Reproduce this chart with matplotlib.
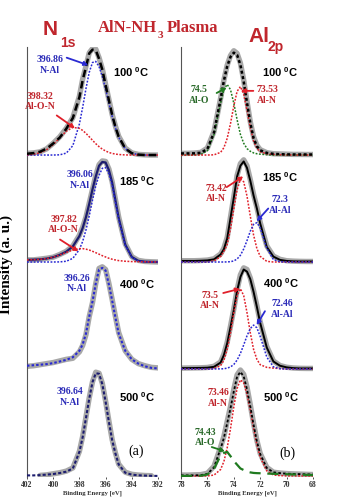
import numpy as np
import matplotlib
matplotlib.use("Agg")
import matplotlib.pyplot as plt

plt.rcParams['mathtext.fontset'] = 'custom'
plt.rcParams['mathtext.rm'] = 'Liberation Sans:bold'
plt.rcParams['mathtext.bf'] = 'Liberation Sans:bold'
plt.rcParams['mathtext.it'] = 'Liberation Sans:bold'

# ---------------- data ----------------
energy_n1s = [402.0, 401.5, 401.0, 400.5, 400.0, 399.5, 399.0, 398.5, 398.0, 397.75, 397.5, 397.25,
              397.0, 396.75, 396.5, 396.25, 396.0, 395.75, 395.5, 395.25, 395.0, 394.5, 394.0,
              393.5, 393.0, 392.5, 392.0]
energy_al2p = [78.0, 77.5, 77.0, 76.5, 76.0, 75.5, 75.0, 74.75, 74.5, 74.25, 74.0, 73.75, 73.5,
               73.25, 73.0, 72.75, 72.5, 72.25, 72.0, 71.5, 71.0, 70.5, 70.0, 69.5, 69.0, 68.5, 68.0]
n1s_ticks = [402, 400, 398, 396, 394, 392]
al2p_ticks = [78, 76, 74, 72, 70, 68]
temperatures = ["100", "185", "400", "500"]

nan = np.nan
# N1s, 100 C
n100_data = [0.015, 0.02, 0.03, 0.058, 0.11, 0.17, 0.25, 0.35, 0.55, 0.71, 0.83, 0.955, 0.995, 0.99, 0.91, 0.805, 0.66, 0.52, 0.38, 0.27, 0.175, 0.065, 0.02, 0.006, 0.002, 0.0, 0.0]
n100_fit = [0.012, 0.018, 0.031, 0.06, 0.108, 0.163, 0.246, 0.346, 0.54, 0.699, 0.823, 0.95, 0.985, 0.98, 0.9, 0.798, 0.654, 0.513, 0.376, 0.262, 0.171, 0.061, 0.017, 0.004, 0.0, 0.0, 0.0]
n100_nal = [0, 0, 0, 0, 0, 0.002, 0.018, 0.088, 0.29, 0.447, 0.62, 0.773, 0.865, 0.875, 0.826, 0.736, 0.616, 0.486, 0.361, 0.253, 0.166, 0.06, 0.017, 0.004, 0, 0, 0]
n100_alon = [0.002, 0.008, 0.021, 0.05, 0.098, 0.161, 0.223, 0.258, 0.25, 0.23, 0.203, 0.171, 0.138, 0.106, 0.078, 0.055, 0.038, 0.024, 0.015, 0.009, 0.005, 0.001, 0, 0, 0, 0, 0]
# N1s, 185 C
n185_data = [0.02, 0.02, 0.027, 0.035, 0.045, 0.07, 0.1, 0.15, 0.25, 0.325, 0.42, 0.55, 0.68, 0.81, 0.91, 0.945, 0.94, 0.87, 0.75, 0.585, 0.42, 0.17, 0.05, 0.015, 0.005, 0.002, 0.0]
n185_fit = [0.02, 0.022, 0.025, 0.032, 0.045, 0.067, 0.097, 0.146, 0.242, 0.318, 0.419, 0.543, 0.679, 0.8, 0.9, 0.935, 0.93, 0.86, 0.743, 0.576, 0.411, 0.163, 0.047, 0.011, 0.003, 0.001, 0.0]
n185_nal = [0, 0, 0, 0, 0, 0.001, 0.007, 0.034, 0.117, 0.193, 0.299, 0.431, 0.579, 0.713, 0.81, 0.876, 0.883, 0.825, 0.717, 0.557, 0.398, 0.156, 0.043, 0.008, 0.001, 0, 0]
n185_alon = [0.02, 0.022, 0.025, 0.032, 0.045, 0.066, 0.09, 0.112, 0.125, 0.125, 0.12, 0.112, 0.1, 0.087, 0.073, 0.059, 0.047, 0.035, 0.026, 0.019, 0.013, 0.007, 0.004, 0.003, 0.002, 0.001, 0.0]
# N1s, 400 C
n400_data = [0.025, 0.03, 0.04, 0.05, 0.06, 0.075, 0.09, 0.1, 0.16, 0.22, 0.32, 0.49, 0.62, 0.8, 0.94, 0.955, 0.93, 0.8, 0.65, 0.49, 0.34, 0.17, 0.09, 0.05, 0.03, 0.015, 0.01]
n400_fit = [0.03, 0.035, 0.04, 0.045, 0.055, 0.07, 0.085, 0.11, 0.17, 0.23, 0.33, 0.49, 0.63, 0.8, 0.93, 0.945, 0.92, 0.79, 0.64, 0.48, 0.33, 0.17, 0.09, 0.05, 0.025, 0.01, 0.005]
# N1s, 500 C
n500_data = [nan, nan, 0.005, 0.01, 0.02, 0.03, 0.045, 0.075, 0.23, 0.37, 0.55, 0.73, 0.88, 0.97, 0.96, 0.865, 0.7, 0.515, 0.34, 0.215, 0.11, 0.035, 0.015, 0.008, 0.004, 0.002, nan]
n500_fit = [0.005, 0.005, 0.008, 0.012, 0.018, 0.027, 0.04, 0.07, 0.225, 0.363, 0.54, 0.722, 0.877, 0.96, 0.955, 0.857, 0.694, 0.507, 0.335, 0.21, 0.107, 0.03, 0.012, 0.006, 0.003, 0.001, 0.0]

# Al2p, 100 C
a100_data = [0.015, 0.016, 0.018, 0.025, 0.065, 0.22, 0.53, 0.7, 0.84, 0.93, 0.975, 0.95, 0.86, 0.7, 0.5, 0.31, 0.17, 0.09, 0.05, 0.022, 0.012, 0.01, 0.008, 0.006, 0.006, 0.005, 0.005]
a100_fit = [0.015, 0.015, 0.016, 0.021, 0.057, 0.211, 0.525, 0.695, 0.83, 0.918, 0.957, 0.936, 0.843, 0.688, 0.488, 0.3, 0.158, 0.082, 0.044, 0.02, 0.011, 0.008, 0.006, 0.005, 0.005, 0.005, 0.005]
a100_alo = [0, 0, 0, 0.005, 0.041, 0.193, 0.485, 0.611, 0.66, 0.611, 0.485, 0.33, 0.193, 0.11, 0.06, 0.035, 0.02, 0.012, 0.008, 0.003, 0, 0, 0, 0, 0, 0, 0]
a100_aln = [0, 0, 0, 0, 0, 0.002, 0.025, 0.069, 0.156, 0.294, 0.46, 0.595, 0.64, 0.569, 0.42, 0.257, 0.131, 0.063, 0.03, 0.012, 0.006, 0.003, 0.001, 0, 0, 0, 0]
# Al2p, 185 C
a185_data = [0.012, 0.012, 0.012, 0.014, 0.018, 0.03, 0.075, 0.13, 0.23, 0.42, 0.61, 0.81, 0.92, 0.955, 0.9, 0.77, 0.63, 0.51, 0.37, 0.15, 0.055, 0.025, 0.012, 0.008, 0.006, 0.005, 0.005]
a185_fit = [0.01, 0.01, 0.01, 0.012, 0.015, 0.025, 0.07, 0.12, 0.22, 0.41, 0.6, 0.8, 0.9, 0.94, 0.88, 0.76, 0.62, 0.5, 0.36, 0.14, 0.05, 0.02, 0.01, 0.006, 0.005, 0.005, 0.005]
a185_aln = [0, 0, 0, 0, 0, 0.01, 0.05, 0.1, 0.164, 0.31, 0.498, 0.675, 0.773, 0.75, 0.616, 0.428, 0.251, 0.125, 0.053, 0.006, 0, 0, 0, 0, 0, 0, 0]
a185_alal = [0, 0, 0, 0, 0, 0, 0, 0, 0.001, 0.003, 0.01, 0.028, 0.063, 0.122, 0.2, 0.288, 0.352, 0.368, 0.319, 0.129, 0.023, 0.002, 0, 0, 0, 0, 0]
# Al2p, 400 C
a400_data = [0.008, 0.009, 0.01, 0.011, 0.014, 0.025, 0.065, 0.14, 0.25, 0.4, 0.56, 0.74, 0.88, 0.945, 0.93, 0.85, 0.73, 0.59, 0.44, 0.21, 0.075, 0.032, 0.016, 0.009, 0.006, 0.005, 0.005]
a400_fit = [0.008, 0.008, 0.009, 0.01, 0.012, 0.02, 0.06, 0.13, 0.24, 0.39, 0.55, 0.73, 0.86, 0.93, 0.91, 0.84, 0.72, 0.58, 0.43, 0.2, 0.07, 0.03, 0.015, 0.008, 0.005, 0.005, 0.005]
a400_aln = [0, 0, 0, 0, 0, 0.003, 0.031, 0.082, 0.182, 0.338, 0.527, 0.686, 0.75, 0.686, 0.527, 0.338, 0.182, 0.09, 0.04, 0.015, 0.008, 0.004, 0, 0, 0, 0, 0]
a400_alal = [0, 0, 0, 0, 0, 0, 0.001, 0.002, 0.008, 0.019, 0.042, 0.083, 0.145, 0.225, 0.31, 0.378, 0.41, 0.385, 0.304, 0.111, 0.02, 0.002, 0, 0, 0, 0, 0]
# Al2p, 500 C
a500_data = [0.008, 0.008, 0.01, 0.012, 0.025, 0.09, 0.27, 0.37, 0.51, 0.65, 0.81, 0.945, 0.99, 0.95, 0.83, 0.665, 0.49, 0.33, 0.21, 0.08, 0.035, 0.027, 0.022, 0.019, 0.017, 0.015, 0.013]
a500_fit = [0.005, 0.005, 0.006, 0.007, 0.019, 0.08, 0.255, 0.355, 0.493, 0.632, 0.79, 0.928, 0.973, 0.93, 0.81, 0.649, 0.477, 0.323, 0.205, 0.074, 0.034, 0.026, 0.021, 0.019, 0.017, 0.015, 0.013]
a500_aln = [0, 0, 0, 0, 0, 0.008, 0.06, 0.135, 0.263, 0.442, 0.645, 0.818, 0.898, 0.87, 0.765, 0.611, 0.444, 0.292, 0.175, 0.047, 0.009, 0.003, 0, 0, 0, 0, 0]
a500_alo = [0, 0, 0.001, 0.002, 0.014, 0.067, 0.19, 0.215, 0.225, 0.185, 0.14, 0.105, 0.07, 0.055, 0.04, 0.033, 0.028, 0.026, 0.025, 0.022, 0.02, 0.018, 0.016, 0.014, 0.012, 0.01, 0.008]

# ---------------- styling ----------------
W, H = 354, 504
GRAY = '#a8a8a8'
BLUE = '#2a2ad2'
NAVY = '#1c1c6e'
RED = '#e0202a'
GREEN = '#1f7a1f'
TRED = '#c0262d'
TBLUE = '#2b2bb8'
TGREEN = '#2a6a2a'
SERIF = 'Liberation Serif'
SANS = 'Liberation Sans'

fig = plt.figure(figsize=(W / 100, H / 100), dpi=100)

def fx(px):
    return px / W

def fy(py):
    return 1 - py / H

axL = fig.add_axes([fx(27), fy(477), fx(158) - fx(27), fy(47) - fy(477)])
axR = fig.add_axes([fx(181), fy(477), fx(313) - fx(181), fy(47) - fy(477)])

def line(ax, x, y, off, **kw):
    ax.plot(x, np.asarray(y, dtype=float) + off, **kw)

data_kw = dict(color=GRAY, lw=3.9, solid_capstyle='round', solid_joinstyle='round', zorder=1)
dot_kw = dict(lw=1.1, linestyle=(0, (1.2, 1.0)), zorder=3)

# N1s column
xs = energy_n1s
line(axL, xs, n100_data, 3, **data_kw)
line(axL, xs, n100_nal, 3, color=BLUE, **dot_kw)
line(axL, xs, n100_alon, 3, color=RED, **dot_kw)
line(axL, xs, n100_fit, 3, color='black', lw=1.8, linestyle=(0, (3.0, 1.6)), zorder=4)

line(axL, xs, n185_data, 2, **data_kw)
line(axL, xs, n185_fit, 2, color=NAVY, lw=1.6, zorder=2)
line(axL, xs, n185_nal, 2, color=BLUE, **dot_kw)
line(axL, xs, n185_alon, 2, color=RED, **dot_kw)

line(axL, xs, n400_data, 1, **data_kw)
line(axL, xs, n400_fit, 1, color=BLUE, lw=1.5, linestyle=(0, (1.2, 1.0)), zorder=3)

line(axL, xs, n500_data, 0, **data_kw)
line(axL, xs, n500_fit, 0, color=NAVY, lw=1.5, linestyle=(0, (1.5, 1.0)), zorder=3)

# Al2p column
xa = energy_al2p
line(axR, xa, a100_data, 3, **data_kw)
line(axR, xa, a100_alo, 3, color=GREEN, **dot_kw)
line(axR, xa, a100_aln, 3, color=RED, **dot_kw)
line(axR, xa, a100_fit, 3, color='black', lw=1.8, linestyle=(0, (1.2, 1.0)), zorder=4)

line(axR, xa, a185_data, 2, **data_kw)
line(axR, xa, a185_fit, 2, color='black', lw=1.4, zorder=2)
line(axR, xa, a185_aln, 2, color=RED, **dot_kw)
line(axR, xa, a185_alal, 2, color=BLUE, **dot_kw)

line(axR, xa, a400_data, 1, **data_kw)
line(axR, xa, a400_fit, 1, color='black', lw=1.4, zorder=2)
line(axR, xa, a400_aln, 1, color=RED, **dot_kw)
line(axR, xa, a400_alal, 1, color=BLUE, **dot_kw)

line(axR, xa, a500_data, 0, **data_kw)
line(axR, xa, a500_aln, 0, color=RED, **dot_kw)
line(axR, xa, a500_fit, 0, color='black', lw=1.3, linestyle=(0, (1.5, 1.2)), zorder=4)
line(axR, xa, a500_alo, 0, color=GREEN, lw=1.6, linestyle=(0, (5, 3)), zorder=5)

for ax, lim, ticks in ((axL, (402, 392), n1s_ticks), (axR, (78, 68), al2p_ticks)):
    ax.set_xlim(*lim)
    ax.set_ylim(-0.01, 4.01)
    ax.set_xticks(ticks)
    ax.set_xticklabels([str(t) for t in ticks], fontfamily=SERIF, fontweight='bold', fontsize=5.5)
    ax.set_yticks([])
    for s in ('top', 'right', 'bottom'):
        ax.spines[s].set_visible(False)
    ax.spines['left'].set_linewidth(0.8)
    ax.spines['left'].set_color('#555555')
    ax.tick_params(axis='x', length=1.5, width=0.6, pad=1.5, colors='#333333')
    ax.set_xlabel('Binding Energy [eV]', fontfamily=SERIF, fontweight='bold', fontsize=4.8,
                  labelpad=1, color='#333333')
    ax.patch.set_alpha(0)

# temperature labels
temp_pos_L = [(394.06, 3.78), (393.6, 2.76), (393.6, 1.79), (393.6, 0.74)]
temp_pos_R = [(70.5, 3.78), (70.5, 2.79), (70.4, 1.80), (70.4, 0.74)]
for t, (x, y) in zip(temperatures, temp_pos_L):
    axL.text(x, y, t + r" $^{0}$C", fontfamily=SANS, fontweight='bold', fontsize=8,
             ha='center', va='center')
for t, (x, y) in zip(temperatures, temp_pos_R):
    axR.text(x, y, t + r" $^{0}$C", fontfamily=SANS, fontweight='bold', fontsize=8,
             ha='center', va='center')

lab_kw = dict(fontfamily=SERIF, fontweight='bold', fontsize=7, ha='center', va='center',
              linespacing=1.25, zorder=6)

def arrow(ax, start, tip, color):
    ax.annotate('', xy=tip, xytext=start,
                arrowprops=dict(arrowstyle='-|>', color=color, lw=1.3,
                                mutation_scale=6, shrinkA=0, shrinkB=0), zorder=6)

# N1s annotations
axL.text(400.25, 3.84, "396.86\nN-Al", color=TBLUE, **lab_kw)
arrow(axL, (398.97, 3.91), (397.32, 3.84), BLUE)
axL.text(401.0, 3.50, "398.32\nAl-O-N", color=TRED, **lab_kw)
arrow(axL, (399.73, 3.37), (398.34, 3.25), RED)
axL.text(397.95, 2.77, "396.06\nN-Al", color=TBLUE, **lab_kw)
axL.text(399.2, 2.35, "397.82\nAl-O-N", color=TRED, **lab_kw)
arrow(axL, (399.48, 2.21), (398.08, 2.10), RED)
axL.text(398.18, 1.80, "396.26\nN-Al", color=TBLUE, **lab_kw)
axL.text(398.72, 0.74, "396.64\nN-Al", color=TBLUE, **lab_kw)

# Al2p annotations
axR.text(76.64, 3.56, "74.5\nAl-O", color=TGREEN, **lab_kw)
arrow(axR, (75.3, 3.58), (74.54, 3.63), GREEN)
axR.text(71.48, 3.56, "73.53\nAl-N", color=TRED, **lab_kw)
arrow(axR, (72.52, 3.60), (73.48, 3.60), RED)
axR.text(75.35, 2.64, "73.42\nAl-N", color=TRED, **lab_kw)
arrow(axR, (74.54, 2.70), (73.28, 2.80), RED)
axR.text(70.5, 2.53, "72.3\nAl-Al", color=TBLUE, **lab_kw)
arrow(axR, (71.39, 2.50), (72.27, 2.38), BLUE)
axR.text(75.8, 1.64, "73.5\nAl-N", color=TRED, **lab_kw)
arrow(axR, (74.8, 1.71), (73.53, 1.75), RED)
axR.text(70.35, 1.56, "72.46\nAl-Al", color=TBLUE, **lab_kw)
arrow(axR, (71.64, 1.54), (72.27, 1.41), BLUE)
axR.text(75.2, 0.73, "73.46\nAl-N", color=TRED, **lab_kw)
axR.text(76.18, 0.36, "74.43\nAl-O", color=TGREEN, **lab_kw)
arrow(axR, (75.67, 0.27), (74.67, 0.23), GREEN)

axL.text(393.7, 0.23, "(a)", fontfamily=SERIF, fontsize=10, ha='center', va='center')
axR.text(69.97, 0.21, "(b)", fontfamily=SERIF, fontsize=10, ha='center', va='center')

# titles
fig.text(fx(43), fy(35), "N", color=TRED, fontfamily=SANS, fontweight='bold', fontsize=15,
         ha='left', va='baseline')
fig.text(fx(60), fy(46.7), "1s", color=TRED, fontfamily=SANS, fontweight='bold', fontsize=10,
         ha='left', va='baseline')
fig.text(fx(157), fy(32), "AlN-NH", color=TRED, fontfamily=SERIF, fontweight='bold', fontsize=12,
         ha='right', va='baseline')
fig.text(fx(157.5), fy(37.5), "3", color=TRED, fontfamily=SERIF, fontweight='bold', fontsize=8,
         ha='left', va='baseline')
fig.text(fx(167), fy(32), "Plasma", color=TRED, fontfamily=SERIF, fontweight='bold', fontsize=12,
         ha='left', va='baseline')
fig.text(fx(248), fy(41.7), "Al", color=TRED, fontfamily=SANS, fontweight='bold', fontsize=15,
         ha='left', va='baseline')
fig.text(fx(268), fy(51), "2p", color=TRED, fontfamily=SANS, fontweight='bold', fontsize=10,
         ha='left', va='baseline')

fig.text(fx(6), fy(265), "Intensity (a. u.)", fontfamily=SERIF, fontweight='bold', fontsize=11,
         rotation=90, ha='center', va='center')

fig.savefig("out.png", dpi=100)
